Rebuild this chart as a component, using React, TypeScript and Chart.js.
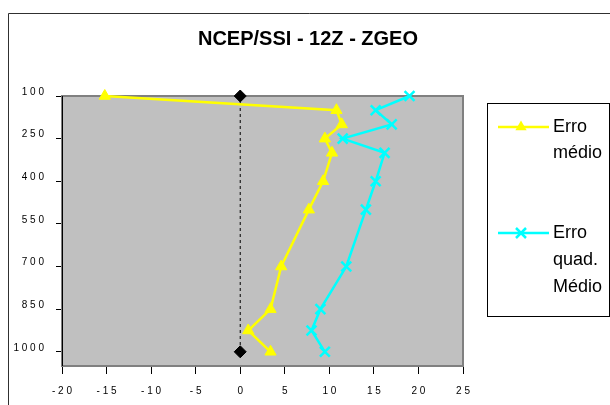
import React, { useEffect, useRef } from 'react';
import { Chart, registerables } from 'chart.js';

Chart.register(...registerables);

// ---- data ----
const levels = [100, 150, 200, 250, 300, 400, 500, 700, 850, 925, 1000];
const erroMedio = [-15.2, 10.8, 11.4, 9.5, 10.3, 9.3, 7.7, 4.6, 3.4, 0.9, 3.4];
const erroQuadMedio = [19.0, 15.2, 17.0, 11.5, 16.2, 15.2, 14.1, 11.9, 9.0, 8.0, 9.5];
const zeroX = [0, 0];
const zeroLevels = [100, 1000];
const yTickValues = [100, 250, 400, 550, 700, 850, 1000];
const xMin = -20;
const xMax = 25;
const xStep = 5;
const yMin = 100;
const yMax = 1050;
const titleText = 'NCEP/SSI - 12Z - ZGEO';
const legendLines1 = ['Erro', 'médio'];
const legendLines2 = ['Erro', 'quad.', 'Médio'];

const YELLOW = '#FFFF00';
const CYAN = '#00FFFF';
const FONT = '"Liberation Sans", Arial, sans-serif';

const spaced = (v: any) => String(v).split('').join(' ');

const decor = {
  id: 'decor',
  beforeDraw(chart: any) {
    const { ctx, chartArea: a } = chart;
    ctx.save();
    ctx.fillStyle = '#ffffff';
    ctx.fillRect(0, 0, chart.width, chart.height);
    ctx.strokeStyle = '#303030';
    ctx.lineWidth = 1;
    ctx.beginPath();
    ctx.moveTo(8.5, chart.height);
    ctx.lineTo(8.5, 13.5);
    ctx.lineTo(chart.width, 13.5);
    ctx.stroke();
    ctx.fillStyle = '#C0C0C0';
    ctx.fillRect(a.left, a.top, a.right - a.left, a.bottom - a.top);
    ctx.restore();
  },
  beforeDatasetsDraw(chart: any) {
    const { ctx, chartArea: a } = chart;
    ctx.save();
    ctx.strokeStyle = '#808080';
    ctx.lineWidth = 2;
    ctx.strokeRect(a.left, a.top, a.right - a.left, a.bottom - a.top);
    ctx.strokeStyle = '#000000';
    ctx.lineWidth = 1;
    ctx.beginPath();
    ctx.moveTo(Math.round(a.left) + 0.5, a.top);
    ctx.lineTo(Math.round(a.left) + 0.5, a.bottom);
    ctx.stroke();
    ctx.restore();
  },
  afterDraw(chart: any) {
    const { ctx } = chart;
    ctx.save();
    // title
    ctx.fillStyle = '#000';
    ctx.font = `bold 20px ${FONT}`;
    ctx.textAlign = 'center';
    ctx.textBaseline = 'middle';
    ctx.fillText(titleText, 308, 39);

    // legend box
    ctx.strokeStyle = '#000';
    ctx.lineWidth = 1;
    ctx.strokeRect(487.5, 103.5, 122, 213);

    const ds = chart.data.datasets;
    // entry 1
    ctx.strokeStyle = ds[0].borderColor;
    ctx.lineWidth = 2.5;
    ctx.beginPath();
    ctx.moveTo(498, 127);
    ctx.lineTo(549, 127);
    ctx.stroke();
    ctx.fillStyle = ds[0].backgroundColor;
    const r = 6.5;
    const cx = 521, cy = 127;
    ctx.beginPath();
    ctx.moveTo(cx, cy - r);
    ctx.lineTo(cx + r * 0.866, cy + r / 2);
    ctx.lineTo(cx - r * 0.866, cy + r / 2);
    ctx.closePath();
    ctx.fill();

    // entry 2
    ctx.strokeStyle = ds[1].borderColor;
    ctx.lineWidth = 2.5;
    ctx.beginPath();
    ctx.moveTo(498, 233);
    ctx.lineTo(549, 233);
    ctx.stroke();
    const d = 5;
    ctx.beginPath();
    ctx.moveTo(521 - d, 233 - d);
    ctx.lineTo(521 + d, 233 + d);
    ctx.moveTo(521 + d, 233 - d);
    ctx.lineTo(521 - d, 233 + d);
    ctx.stroke();

    ctx.fillStyle = '#000';
    ctx.font = `18px ${FONT}`;
    ctx.textAlign = 'left';
    ctx.textBaseline = 'middle';
    legendLines1.forEach((t, i) => ctx.fillText(t, 553, 127 + i * 26.5));
    legendLines2.forEach((t, i) => ctx.fillText(t, 553, 233 + i * 27));
    ctx.restore();
  },
};

export default function App() {
  const ref = useRef<HTMLCanvasElement>(null);
  useEffect(() => {
    if (!ref.current) return;
    const chart = new Chart(ref.current, {
      type: 'line',
      data: {
        datasets: [
          {
            label: 'Erro médio',
            data: levels.map((l, i) => ({ x: erroMedio[i], y: l })),
            borderColor: YELLOW,
            backgroundColor: YELLOW,
            borderWidth: 2.5,
            pointStyle: 'triangle',
            pointRadius: 6.5,
            pointBorderWidth: 1,
            pointBackgroundColor: YELLOW,
            pointBorderColor: YELLOW,
            tension: 0,
            clip: false,
          },
          {
            label: 'Erro quad. Médio',
            data: levels.map((l, i) => ({ x: erroQuadMedio[i], y: l })),
            borderColor: CYAN,
            backgroundColor: CYAN,
            borderWidth: 2.5,
            pointStyle: 'crossRot',
            pointRadius: 7,
            pointBorderWidth: 2.5,
            pointBorderColor: CYAN,
            tension: 0,
            clip: false,
          },
          {
            label: 'zero',
            data: zeroLevels.map((l, i) => ({ x: zeroX[i], y: l })),
            borderColor: '#000',
            backgroundColor: '#000',
            borderWidth: 1,
            borderDash: [3, 3],
            pointStyle: 'rectRot',
            pointRadius: 6,
            pointBackgroundColor: '#000',
            pointBorderColor: '#000',
            clip: false,
          },
        ],
      },
      options: {
        animation: false,
        responsive: false,
        devicePixelRatio: 1,
        layout: { padding: { top: 96, right: 147, bottom: 0, left: 0 } },
        plugins: {
          legend: { display: false },
          title: { display: false },
          tooltip: { enabled: false },
        },
        scales: {
          x: {
            type: 'linear',
            min: xMin,
            max: xMax,
            border: { display: false },
            grid: {
              display: true,
              drawOnChartArea: false,
              drawTicks: true,
              tickLength: 8,
              color: '#000',
            },
            ticks: {
              stepSize: xStep,
              padding: 11,
              color: '#000',
              font: { family: FONT, size: 10 },
              callback: (v: any) => spaced(v),
              maxRotation: 0,
            },
            afterFit: (s: any) => {
              s.height = 39;
            },
          },
          y: {
            type: 'linear',
            reverse: true,
            min: yMin,
            max: yMax,
            border: { display: false },
            grid: {
              display: true,
              drawOnChartArea: false,
              drawTicks: true,
              tickLength: 6,
              color: '#000',
            },
            afterBuildTicks: (s: any) => {
              s.ticks = yTickValues.map((v) => ({ value: v }));
            },
            ticks: {
              padding: 12,
              labelOffset: -4,
              color: '#000',
              font: { family: FONT, size: 10 },
              callback: (v: any) => spaced(v),
            },
            afterFit: (s: any) => {
              s.width = 62;
            },
          },
        },
      },
      plugins: [decor],
    } as any);
    return () => chart.destroy();
  }, []);
  return (
    <div style={{ position: 'absolute', left: 0, top: 0, width: 610, height: 405, overflow: 'hidden' }}>
      <canvas ref={ref} width={610} height={405} style={{ display: 'block' }} />
    </div>
  );
}
